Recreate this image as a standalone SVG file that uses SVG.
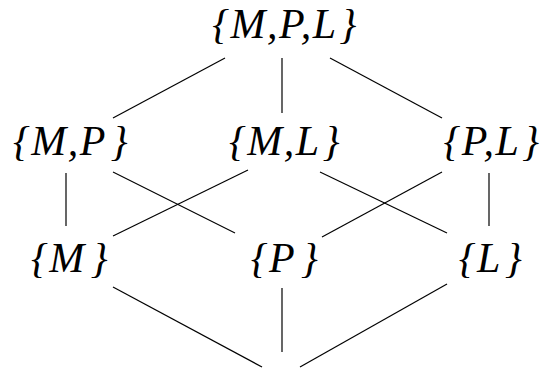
<svg xmlns="http://www.w3.org/2000/svg" width="544" height="370" viewBox="0 0 544 370">
<style>
text{font-family:'Liberation Serif','Times New Roman',serif;font-style:italic;font-weight:normal;font-size:42px;fill:#000;text-anchor:middle;letter-spacing:1.5px}
.e{stroke:#000;stroke-width:1.2;fill:none}
</style>
<rect width="544" height="370" fill="#fff"/>
<g id="connectors">
<line class="e" x1="225" y1="58" x2="113" y2="118"/>
<line class="e" x1="282" y1="58" x2="282" y2="113"/>
<line class="e" x1="330" y1="58" x2="442" y2="118"/>
<line class="e" x1="66" y1="173" x2="66" y2="226"/>
<line class="e" x1="113" y1="172" x2="235" y2="233"/>
<line class="e" x1="248" y1="170" x2="113" y2="236"/>
<line class="e" x1="320" y1="172" x2="447" y2="233"/>
<line class="e" x1="442" y1="172" x2="322" y2="237"/>
<line class="e" x1="489" y1="173" x2="489" y2="226"/>
<line class="e" x1="113" y1="287" x2="262" y2="367"/>
<line class="e" x1="282" y1="288" x2="282" y2="352"/>
<line class="e" x1="447" y1="284" x2="300" y2="367"/>
</g>
<g id="n-MPL"><text x="285" y="38">{M,P,L<tspan dx="2">}</tspan></text></g>
<g id="n-MP"><text x="71" y="155">{M,P<tspan dx="4">}</tspan></text></g>
<g id="n-ML"><text x="285" y="155">{M,L<tspan dx="2">}</tspan></text></g>
<g id="n-PL"><text x="492" y="155">{P,L<tspan dx="2">}</tspan></text></g>
<g id="n-M"><text x="70" y="272">{M<tspan dx="5">}</tspan></text></g>
<g id="n-P"><text x="285" y="272">{P<tspan dx="5">}</tspan></text></g>
<g id="n-L"><text x="491" y="272">{L<tspan dx="3">}</tspan></text></g>
<g id="n-empty"></g>
</svg>
